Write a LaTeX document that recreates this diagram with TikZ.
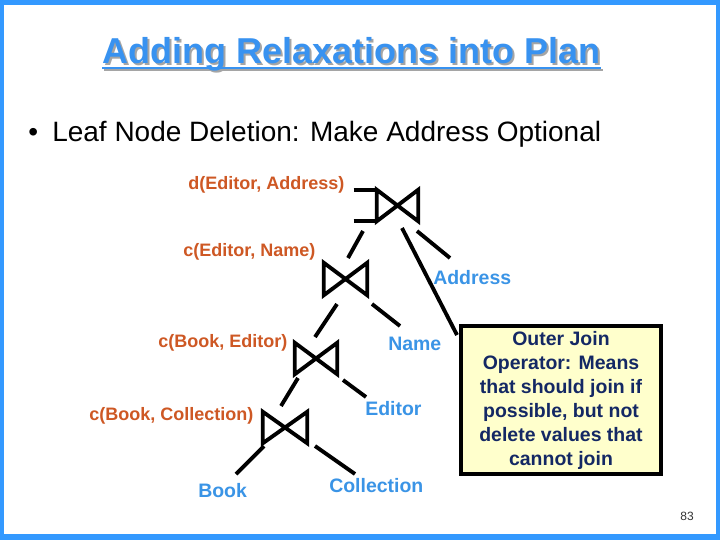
\documentclass[tikz,border=0pt]{standalone}
\usepackage{fontspec}
\setmainfont{Liberation Sans}
\definecolor{frameblue}{RGB}{51,153,255}
\definecolor{titleblue}{RGB}{56,146,240}
\definecolor{shadowgray}{RGB}{165,165,165}
\definecolor{labelorange}{RGB}{206,88,36}
\definecolor{labelblue}{RGB}{58,148,230}
\definecolor{notenavy}{RGB}{20,40,100}
\definecolor{noteyellow}{RGB}{255,255,204}
\begin{document}
\begin{tikzpicture}[x=0.75pt,y=-0.75pt,
  oplines/.style={line width=2.9pt,line join=miter,line cap=butt},
  stub/.style={line width=2.9pt,line cap=butt},
  joinop/.style={rectangle,inner sep=0pt,minimum width=#1*0.75pt},
  joinop/.default=42,
  condlabel/.style={anchor=base west,inner sep=0pt,text=labelorange,font=\bfseries\fontsize{13.5}{16}\selectfont},
  rellabel/.style={anchor=base west,inner sep=0pt,text=labelblue,font=\bfseries\fontsize{14.6}{17}\selectfont},
  notebox/.style={draw=black,line width=2.6pt,fill=noteyellow,text=notenavy,align=center,
    minimum width=200*0.75pt,minimum height=148*0.75pt,inner sep=0pt,
    font=\bfseries\fontsize{14.6}{18}\selectfont},
  titletext/.style={anchor=base west,inner sep=0pt,font=\bfseries\fontsize{27}{32}\selectfont}
]
\useasboundingbox (0,0) rectangle (720,540);
% frame
\fill[frameblue] (0,0) rectangle (720,540);
\fill[white] (4,5) rectangle (716,534);
% title with shadow
\node[titletext,text=shadowgray] (titleshadow) at (104,65) {Adding Relaxations into Plan};
\draw[shadowgray,line width=2.2pt] (titleshadow.base west)++(0,5) -- ++(499,0);
\node[titletext,text=titleblue] (title) at (102,63) {Adding Relaxations into Plan};
\draw[titleblue,line width=2.2pt] (title.base west)++(0,5) -- ++(499,0);
% bullet
\node[anchor=base west,inner sep=0pt,font=\fontsize{21}{25}\selectfont] (bullet) at (28,141) {\textbullet};
\node[anchor=base west,inner sep=0pt,font=\fontsize{21}{25}\selectfont] (bullettext) at (52,141) {Leaf Node Deletion: Make Address Optional};
% join operators
\node[joinop=41,minimum height=31*0.75pt] (j1) at (397.5,205.5) {};
\node[joinop=43,minimum height=32*0.75pt] (j2) at (345.5,279) {};
\node[joinop=42,minimum height=31*0.75pt] (j3) at (316,358.5) {};
\node[joinop=44,minimum height=31*0.75pt] (j4) at (285,427.5) {};
\foreach \j in {j1,j2,j3,j4}{
  \draw[oplines] (\j.north west) -- (\j.south west) -- (\j.north east) -- (\j.south east) -- cycle;
}
% outer-join bracket
\draw[oplines] ([xshift=-23*0.75pt]j1.north west) -- (j1.north west);
\draw[oplines] ([xshift=-23*0.75pt]j1.south west) -- (j1.south west);
% condition labels
\node[condlabel] (c1) at (188,189.5) {d(Editor, Address)};
\node[condlabel] (c2) at (183,256.5) {c(Editor, Name)};
\node[condlabel] (c3) at (158,347.5) {c(Book, Editor)};
\node[condlabel] (c4) at (89,420.5) {c(Book, Collection)};
% relation labels
\node[rellabel] (address) at (433,284) {Address};
\node[rellabel] (name) at (388,350) {Name};
\node[rellabel] (editor) at (365,415) {Editor};
\node[rellabel] (book) at (198,497) {Book};
\node[rellabel] (collection) at (329,492) {Collection};
% note box
\node[notebox] (note) at (561,400) {Outer Join\\Operator: Means\\that should join if\\possible, but not\\delete values that\\cannot join};
% connector end points
\coordinate (a1) at (363,231); \coordinate (b1) at (348,258);
\coordinate (a2) at (402,228); \coordinate (b2) at (457,335);
\coordinate (a3) at (417,231); \coordinate (b3) at (450,258);
\coordinate (a4) at (337,304); \coordinate (b4) at (315,337);
\coordinate (a5) at (372,304); \coordinate (b5) at (400,326);
\coordinate (a6) at (298,378); \coordinate (b6) at (281,406);
\coordinate (a7) at (343,380); \coordinate (b7) at (366,397);
\coordinate (a8) at (264,446); \coordinate (b8) at (236,474);
\coordinate (a9) at (315,446); \coordinate (b9) at (355,474);
\foreach \i in {1,...,9}{\draw[stub] (a\i) -- (b\i);}
% page number
\node[anchor=base,inner sep=0pt,text=black!80,font=\fontsize{9}{11}\selectfont] (page) at (687,520) {83};
\end{tikzpicture}
\end{document}
